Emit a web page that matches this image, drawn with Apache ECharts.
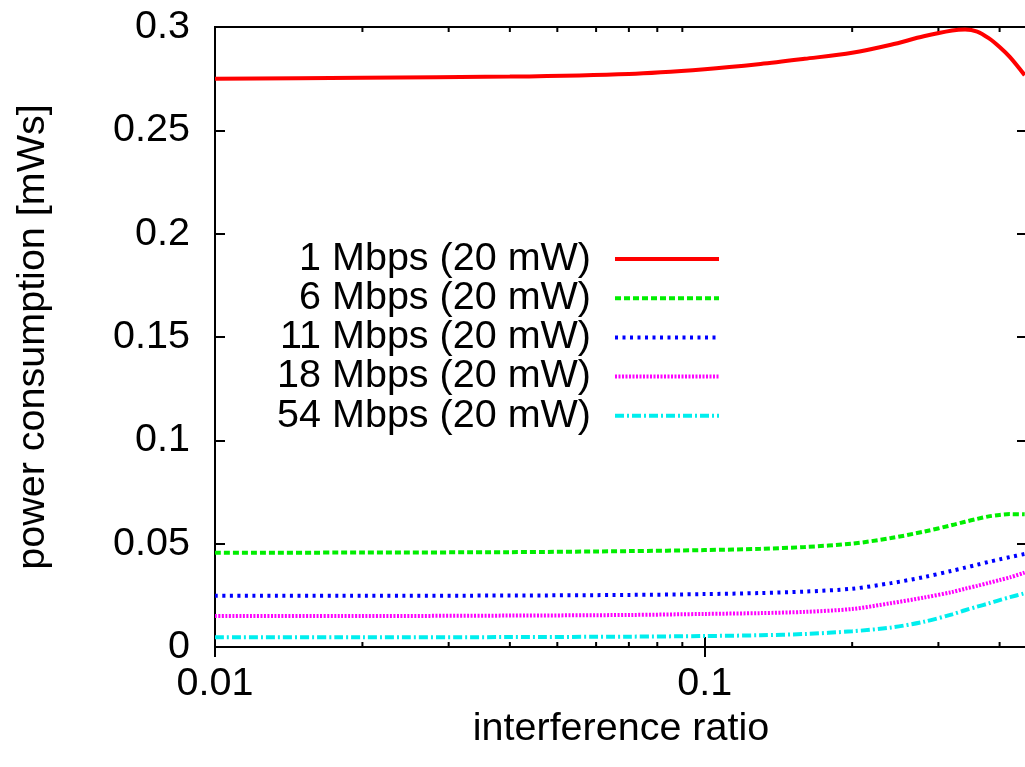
<!DOCTYPE html>
<html>
<head>
<meta charset="utf-8">
<script src="https://cdn.jsdelivr.net/npm/echarts@6/dist/echarts.min.js"></script>
<style>
html,body{margin:0;padding:0;background:#fff;overflow:hidden;}
#c{width:1025px;height:767px;}
</style>
</head>
<body>
<div id="c"></div>
<script>
const xRatio  = [0.01,0.02,0.04,0.07,0.1,0.13,0.16,0.2,0.24,0.28,0.32,0.34,0.36,0.38,0.4,0.42,0.45];
const s1Mbps  = [0.2750,0.2754,0.2760,0.2773,0.2796,0.2821,0.2846,0.2875,0.2914,0.2955,0.2983,0.2988,0.2978,0.2946,0.2903,0.2854,0.2767];
const s6Mbps  = [0.0456,0.0457,0.0459,0.0464,0.0469,0.0475,0.0484,0.0500,0.0527,0.0558,0.0590,0.0606,0.0620,0.0632,0.0639,0.0643,0.0642];
const s11Mbps = [0.0248,0.0248,0.0249,0.0252,0.0256,0.0261,0.0268,0.0282,0.0309,0.0338,0.0369,0.0384,0.0398,0.0412,0.0424,0.0435,0.0450];
const s18Mbps = [0.0150,0.0150,0.0152,0.0155,0.0160,0.0164,0.0170,0.0184,0.0212,0.0239,0.0266,0.0282,0.0296,0.0310,0.0324,0.0337,0.0360];
const s54Mbps = [0.0047,0.0047,0.0048,0.0050,0.0053,0.0057,0.0063,0.0076,0.0094,0.0122,0.0158,0.0178,0.0195,0.0211,0.0227,0.0241,0.0260];
const seriesNames = ['1 Mbps (20 mW)','6 Mbps (20 mW)','11 Mbps (20 mW)','18 Mbps (20 mW)','54 Mbps (20 mW)'];
const minorTickX = [0.02,0.03,0.04,0.05,0.06,0.07,0.08,0.09,0.2,0.3,0.4];
const xMin = 0.01, xMax = 0.455;
const yMin = 0, yMax = 0.3, yStep = 0.05;

const FONT = 'Liberation Sans';
const FS = 39.5;

function pairs(ys){ return xRatio.map((x,i)=>[x, ys[i]]); }

const styles = [
  {color:'#ff0000', type:'solid', width:4},
  {color:'#00ee00', type:[6,3], width:4},
  {color:'#0000ff', type:[3,4.5], width:4},
  {color:'#ff00ff', type:[2,1.5], width:4},
  {color:'#00eeee', type:[9,3,2,3], width:4}
];
const data = [s1Mbps, s6Mbps, s11Mbps, s18Mbps, s54Mbps];

const lineSeries = seriesNames.map((n,i)=>({
  name:n, type:'line', xAxisIndex:0, yAxisIndex:0,
  data:pairs(data[i]), smooth:0.3, symbol:'none', showSymbol:false,
  color:styles[i].color,
  lineStyle:{color:styles[i].color, type:styles[i].type, width:styles[i].width, cap:'butt'},
  z:3, animation:false
}));

const chart = echarts.init(document.getElementById('c'), null, {renderer:'canvas'});
chart.setOption({
  animation:false,
  backgroundColor:'#fff',
  textStyle:{fontFamily:FONT},
  grid:{left:215, top:27, right:-2, bottom:120, outerBoundsMode:'none', containLabel:false,
        show:true, borderColor:'#000', borderWidth:2, backgroundColor:'transparent'},
  legend:{
    data:seriesNames, orient:'vertical', align:'right',
    right:304, top:239, padding:0,
    itemWidth:104, itemHeight:14, itemGap:-0.8,
    itemStyle:{opacity:0},
    lineStyle:{width:4},
    textStyle:{fontFamily:FONT, fontSize:FS, color:'#000', lineHeight:39, padding:[0,19,0,0]},
    selectedMode:false
  },
  xAxis:[
    {type:'log', logBase:10, min:xMin, max:xMax, position:'bottom',
     name:'interference ratio', nameLocation:'middle', nameGap:57,
     nameTextStyle:{fontFamily:FONT, fontSize:FS, color:'#000'},
     axisLine:{show:true, lineStyle:{color:'#000', width:2}},
     axisTick:{show:true, inside:true, length:10, lineStyle:{color:'#000', width:2}},
     axisLabel:{fontFamily:FONT, fontSize:FS, color:'#000', margin:17, showMaxLabel:false},
     splitLine:{show:false}, minorTick:{show:false}},
    {type:'log', logBase:10, min:xMin, max:xMax, position:'top',
     axisLine:{show:false},
     axisTick:{show:true, inside:true, length:10, lineStyle:{color:'#000', width:2}},
     axisLabel:{show:false}, splitLine:{show:false}}
  ],
  yAxis:[
    {type:'value', min:yMin, max:yMax, interval:yStep, position:'left',
     name:'power consumption [mWs]', nameLocation:'middle', nameGap:162, nameRotate:90,
     nameTextStyle:{fontFamily:FONT, fontSize:FS, color:'#000'},
     axisLine:{show:true, lineStyle:{color:'#000', width:2}},
     axisTick:{show:true, inside:true, length:10, lineStyle:{color:'#000', width:2}},
     axisLabel:{fontFamily:FONT, fontSize:FS, color:'#000', margin:25},
     splitLine:{show:false}},
    {type:'value', min:yMin, max:yMax, interval:yStep, position:'right',
     axisLine:{show:false},
     axisTick:{show:true, inside:true, length:10, lineStyle:{color:'#000', width:2}},
     axisLabel:{show:false}, splitLine:{show:false}}
  ],
  series: lineSeries.concat([{
    type:'custom', xAxisIndex:0, yAxisIndex:0, silent:true, z:2,
    data:minorTickX.map(x=>[x]),
    renderItem:function(params, api){
      const x = api.value(0);
      const b = api.coord([x, yMin]);
      const t = api.coord([x, yMax]);
      const st = {stroke:'#000', lineWidth:2};
      return {type:'group', children:[
        {type:'line', shape:{x1:b[0], y1:b[1], x2:b[0], y2:b[1]-5}, style:st},
        {type:'line', shape:{x1:t[0], y1:t[1], x2:t[0], y2:t[1]+5}, style:st}
      ]};
    },
    clip:false
  }])
});
</script>
</body>
</html>
